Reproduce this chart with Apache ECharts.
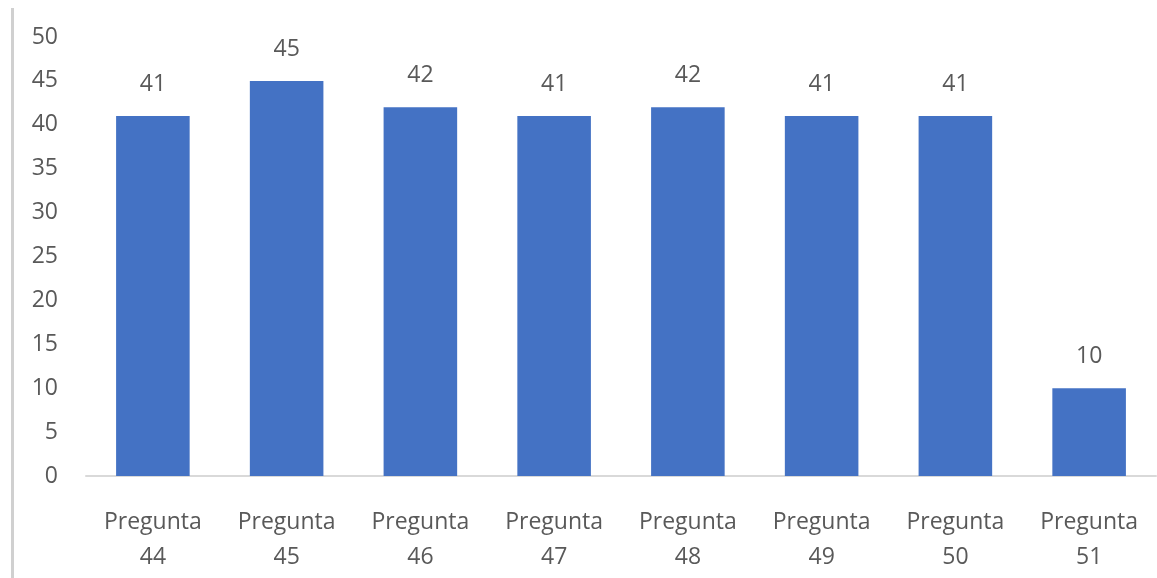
<!DOCTYPE html>
<html>
<head>
<meta charset="utf-8">
<script src="https://cdn.jsdelivr.net/npm/echarts@6/dist/echarts.min.js"></script>
<style>
  html, body { margin: 0; padding: 0; background: #ffffff; }
  #chart { width: 1157px; height: 578px; }
</style>
</head>
<body>
<div id="chart"></div>
<script>
// Respuestas por pregunta
const categories = ['Pregunta\n44', 'Pregunta\n45', 'Pregunta\n46', 'Pregunta\n47',
                    'Pregunta\n48', 'Pregunta\n49', 'Pregunta\n50', 'Pregunta\n51'];
const values = [41, 45, 42, 41, 42, 41, 41, 10];

const textColor = '#595959';
const fontFamily = '"Open Sans", "Noto Sans", sans-serif';

const chart = echarts.init(document.getElementById('chart'));
chart.setOption({
  backgroundColor: '#ffffff',
  animation: false,
  graphic: [{
    type: 'rect',
    shape: { x: 11, y: 8, width: 3, height: 570 },
    style: { fill: '#d0d0d0' }
  }],
  grid: { left: 86, right: 1, top: 37, bottom: 102, containLabel: false },
  xAxis: {
    type: 'category',
    data: categories,
    axisLine: { lineStyle: { color: '#d9d9d9', width: 2 } },
    axisTick: { show: false },
    axisLabel: {
      color: textColor, fontFamily: fontFamily, fontSize: 23,
      lineHeight: 35, margin: 29, interval: 0
    }
  },
  yAxis: {
    type: 'value',
    min: 0, max: 50, interval: 5,
    axisLine: { show: false },
    axisTick: { show: false },
    splitLine: { show: false },
    axisLabel: { color: textColor, fontFamily: fontFamily, fontSize: 23, margin: 28 }
  },
  series: [{
    type: 'bar',
    data: values,
    barCategoryGap: '45%',
    itemStyle: { color: '#4472c4' },
    label: {
      show: true, position: 'top', distance: 20,
      color: textColor, fontFamily: fontFamily, fontSize: 23
    }
  }]
});
</script>
</body>
</html>
